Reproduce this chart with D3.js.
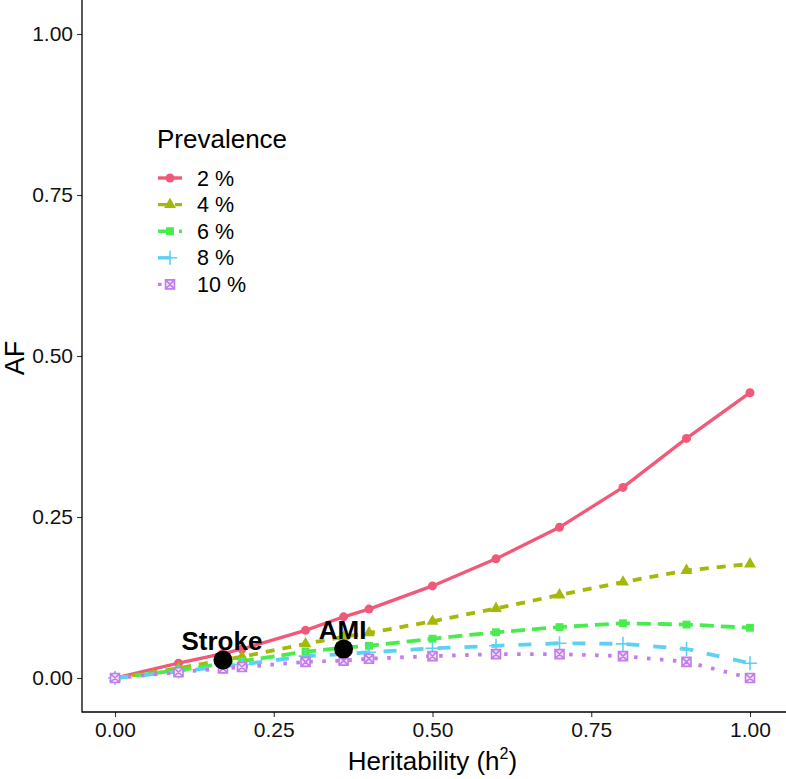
<!DOCTYPE html>
<html>
<head>
<meta charset="utf-8">
<script src="https://cdn.jsdelivr.net/npm/d3@7"></script>
<style>
  body { margin: 0; background: #fff; }
  text { font-family: "Liberation Sans", Arial, sans-serif; }
</style>
</head>
<body>
<div id="chart"></div>
<script>
// heritability grid (x) and attributable fraction per prevalence (y)
const heritability = [0, 0.1, 0.17, 0.2, 0.3, 0.36, 0.4, 0.5, 0.6, 0.7, 0.8, 0.9, 1.0];
const af2  = [0, 0.023, 0.038, 0.045, 0.074, 0.095, 0.107, 0.143, 0.185, 0.234, 0.296, 0.372, 0.443];
const af4  = [0, 0.015, 0.028, 0.033, 0.053, 0.064, 0.070, 0.088, 0.108, 0.129, 0.149, 0.167, 0.177];
const af6  = [0, 0.012, 0.022, 0.026, 0.041, 0.047, 0.050, 0.061, 0.071, 0.079, 0.085, 0.083, 0.078];
const af8  = [0, 0.010, 0.018, 0.021, 0.034, 0.037, 0.040, 0.046, 0.050, 0.054, 0.053, 0.045, 0.023];
const af10 = [0, 0.009, 0.015, 0.017, 0.025, 0.027, 0.030, 0.034, 0.037, 0.037, 0.034, 0.025, 0.000];
const prevalenceLabels = ["2 %", "4 %", "6 %", "8 %", "10 %"];

const diseaseNames = ["Stroke", "AMI"];
const diseaseH2 = [0.17, 0.36];
const diseaseAF = [0.028, 0.045];

const xTicks = [0, 0.25, 0.5, 0.75, 1];
const yTicks = [0, 0.25, 0.5, 0.75, 1];

const allSeries = [af2, af4, af6, af8, af10];

// look of each series
const colors = ["#f05a78", "#a5b80a", "#48ec4c", "#5dd1f4", "#c27cee"];
const dashes = [null, "9,8", "14,7", "13,14", "3.5,9.5"];
const shapes = ["circle", "triangle", "square", "plus", "boxcross"];

const width = 786, height = 779;
const left = 82, bottom = 712;

const svg = d3.select("#chart").append("svg")
  .attr("width", width).attr("height", height);

const x = d3.scaleLinear().domain([0, 1]).range([115, 750]);
const y = d3.scaleLinear().domain([0, 1]).range([678, 34]);

function drawMarker(g, shape, color) {
  if (shape === "circle") {
    g.append("circle").attr("r", 4.5).attr("fill", color);
  } else if (shape === "triangle") {
    g.append("path").attr("d", d3.symbol(d3.symbolTriangle, 62)()).attr("fill", color);
  } else if (shape === "square") {
    g.append("path").attr("d", d3.symbol(d3.symbolSquare, 62)()).attr("fill", color);
  } else if (shape === "plus") {
    g.append("path").attr("d", "M-7,0H7M0,-7V7")
      .attr("stroke", color).attr("stroke-width", 1.6).attr("fill", "none");
  } else {
    g.append("path").attr("d", "M-4.5,-4.5H4.5V4.5H-4.5ZM-4.5,-4.5L4.5,4.5M4.5,-4.5L-4.5,4.5")
      .attr("stroke", color).attr("stroke-width", 1.6).attr("fill", "#f3e2fb");
  }
}

// lines
const line = d3.line().x((d, i) => x(heritability[i])).y(d => y(d));
allSeries.forEach((vals, s) => {
  svg.append("path")
    .attr("d", line(vals))
    .attr("fill", "none")
    .attr("stroke", colors[s])
    .attr("stroke-width", s === 0 ? 3.3 : 3.8)
    .attr("stroke-dasharray", dashes[s]);
});

// points
allSeries.forEach((vals, s) => {
  vals.forEach((v, i) => {
    const g = svg.append("g").attr("transform", `translate(${x(heritability[i])},${y(v)})`);
    drawMarker(g, shapes[s], colors[s]);
  });
});

// disease markers
diseaseNames.forEach((name, i) => {
  svg.append("circle")
    .attr("cx", x(diseaseH2[i])).attr("cy", y(diseaseAF[i]))
    .attr("r", 9.5).attr("fill", "#000");
  svg.append("text")
    .attr("x", x(diseaseH2[i]) - 1).attr("y", y(diseaseAF[i]) - 10)
    .attr("text-anchor", "middle")
    .attr("font-size", 26).attr("font-weight", "bold")
    .text(name);
});

// axes
const yAxis = svg.append("g").attr("transform", `translate(${left},0)`)
  .call(d3.axisLeft(y).tickValues(yTicks).tickFormat(d3.format(".2f")).tickSize(5).tickPadding(4));
const xAxis = svg.append("g").attr("transform", `translate(0,${bottom})`)
  .call(d3.axisBottom(x).tickValues(xTicks).tickFormat(d3.format(".2f")).tickSize(5).tickPadding(5));
[yAxis, xAxis].forEach(a => {
  a.select(".domain").remove();
  a.selectAll(".tick line").attr("stroke", "#333").attr("stroke-width", 1.1);
  a.selectAll(".tick text").attr("fill", "#111")
    .style("font-size", "21px")
    .style("font-family", '"Liberation Sans", Arial, sans-serif');
});
svg.append("line").attr("x1", left).attr("x2", left).attr("y1", 0).attr("y2", bottom + 0.5)
  .attr("stroke", "#000").attr("stroke-width", 1.3);
svg.append("line").attr("x1", left).attr("x2", width).attr("y1", bottom).attr("y2", bottom)
  .attr("stroke", "#000").attr("stroke-width", 1.3);

// axis titles
svg.append("text")
  .attr("transform", `translate(24,${(y(0) + y(1)) / 2 + 2}) rotate(-90)`)
  .attr("text-anchor", "middle").attr("font-size", 27).text("AF");
const xt = svg.append("text")
  .attr("x", (x(0) + x(1)) / 2).attr("y", 770)
  .attr("text-anchor", "middle").attr("font-size", 26);
xt.append("tspan").text("Heritability (h");
xt.append("tspan").attr("font-size", 16).attr("dy", -11).text("2");
xt.append("tspan").attr("dy", 11).text(")");

// legend
const legend = svg.append("g").attr("transform", "translate(157,0)");
legend.append("text").attr("x", 0).attr("y", 148).attr("font-size", 26).text("Prevalence");
prevalenceLabels.forEach((lab, s) => {
  const cy = 178 + s * 26.6;
  legend.append("line")
    .attr("x1", 1).attr("x2", 25).attr("y1", cy).attr("y2", cy)
    .attr("stroke", colors[s]).attr("stroke-width", 3.4)
    .attr("stroke-dasharray", dashes[s]);
  const g = legend.append("g").attr("transform", `translate(13,${cy})`);
  drawMarker(g, shapes[s], colors[s]);
  legend.append("text").attr("x", 40).attr("y", cy + 7.5).attr("font-size", 21.5).text(lab);
});
</script>
</body>
</html>
